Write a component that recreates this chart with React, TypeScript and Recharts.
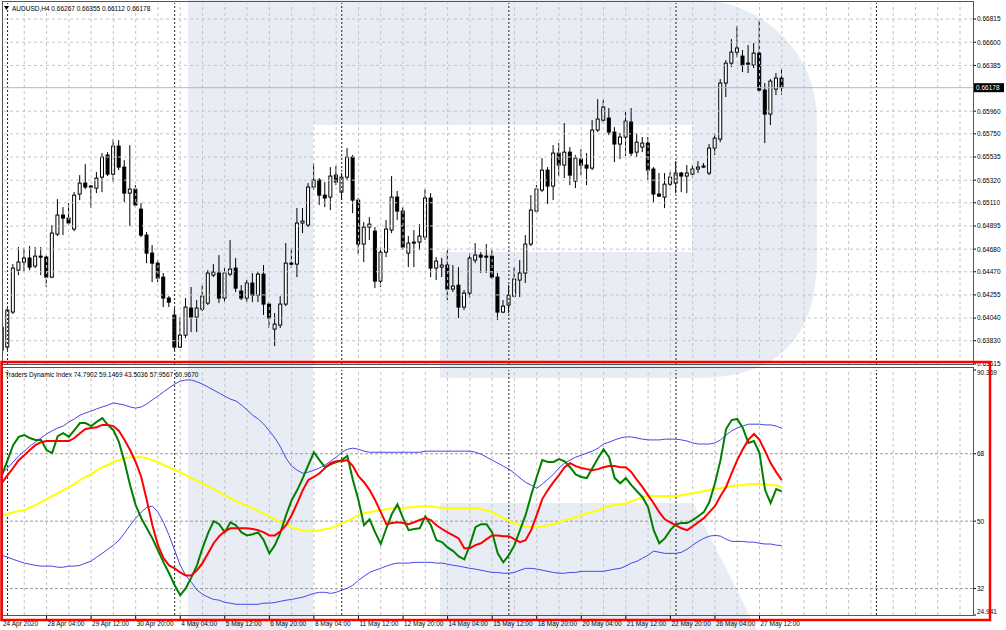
import React from "react";
import { Bar, ComposedChart, Line, ReferenceLine, XAxis, YAxis } from "recharts";

// AUDUSD H4 candles with the Traders Dynamic Index pane underneath,
// laid out like an MT4 chart window.

const FONT = "'Liberation Sans', Arial, sans-serif";
const FS = 6.5;

// ── candles (one per H4 bar, oldest first) ───────────────────────────────
const opens = [
  0.63743, 0.63771, 0.64096, 0.64485, 0.6456, 0.64597, 0.64523, 0.64615, 0.64606, 0.6442,
  0.64819, 0.64996, 0.64968, 0.64866, 0.65191, 0.65293, 0.65265, 0.65246, 0.65348, 0.65553,
  0.65376, 0.65636, 0.65441, 0.652, 0.65237, 0.65051, 0.6481, 0.64643, 0.6455, 0.6442,
  0.64226, 0.64068, 0.63771, 0.63882, 0.64133, 0.64049, 0.64123, 0.64179, 0.64439, 0.64458,
  0.64226, 0.64448, 0.64504, 0.64291, 0.64226, 0.64365, 0.64253, 0.64448, 0.6417, 0.63938,
  0.63975, 0.6417, 0.6455, 0.64541, 0.64922, 0.64903, 0.65256, 0.65321, 0.65181, 0.65163,
  0.65367, 0.65209, 0.65348, 0.65534, 0.65135, 0.64727, 0.64884, 0.64847, 0.64383, 0.64652,
  0.64857, 0.65163, 0.65033, 0.64643, 0.64736, 0.64745, 0.64792, 0.65154, 0.64504, 0.64513,
  0.64532, 0.64309, 0.64346, 0.64142, 0.64272, 0.64578, 0.64625, 0.64615, 0.64615, 0.6442,
  0.64096, 0.64161, 0.64244, 0.64393, 0.64458, 0.64727, 0.65033, 0.65228, 0.65413, 0.65265,
  0.65571, 0.6546, 0.6558, 0.65311, 0.65515, 0.6546, 0.65432, 0.65785, 0.65877, 0.65896,
  0.65766, 0.65655, 0.6572, 0.65859, 0.6558, 0.65627, 0.65664, 0.65423, 0.65191, 0.65163,
  0.65283, 0.65293, 0.65386, 0.65358, 0.65376, 0.65423, 0.65441, 0.65386, 0.65618, 0.65701,
  0.66221, 0.66406, 0.66508, 0.66471, 0.66406, 0.66388, 0.66499, 0.66156, 0.65933, 0.66165,
  0.66267,
];
const highs = [
  0.63975, 0.64133, 0.64541, 0.64699, 0.6469, 0.64708, 0.64699, 0.64699, 0.64625, 0.64903,
  0.65144, 0.6507, 0.65107, 0.65209, 0.65367, 0.65469, 0.65274, 0.65395, 0.65571, 0.6558,
  0.65701, 0.65692, 0.65506, 0.65645, 0.65274, 0.65107, 0.64838, 0.64717, 0.64578, 0.64458,
  0.64244, 0.64133, 0.64049, 0.64226, 0.64328, 0.64207, 0.64346, 0.64485, 0.64541, 0.64625,
  0.64504, 0.64764, 0.64597, 0.64346, 0.64393, 0.64458, 0.64467, 0.64532, 0.64188, 0.64086,
  0.64244, 0.64736, 0.6469, 0.65061, 0.65061, 0.65293, 0.65478, 0.65339, 0.65302, 0.65441,
  0.65451, 0.65386, 0.65618, 0.65553, 0.65154, 0.64931, 0.64977, 0.64884, 0.64699, 0.64949,
  0.65358, 0.65219, 0.6507, 0.64801, 0.64857, 0.64912, 0.65237, 0.652, 0.64606, 0.64597,
  0.64671, 0.64532, 0.64513, 0.643, 0.64643, 0.64736, 0.64652, 0.64727, 0.64671, 0.64458,
  0.64207, 0.64346, 0.64513, 0.64578, 0.6481, 0.65181, 0.65274, 0.65525, 0.65441, 0.65645,
  0.65664, 0.6585, 0.65627, 0.65553, 0.65608, 0.65571, 0.65877, 0.66072, 0.66063, 0.65989,
  0.65812, 0.65757, 0.65952, 0.65989, 0.65757, 0.6572, 0.6572, 0.65441, 0.65386, 0.65386,
  0.65395, 0.65497, 0.65395, 0.6546, 0.6546, 0.65497, 0.65478, 0.65655, 0.65757, 0.66258,
  0.66434, 0.66629, 0.6675, 0.66527, 0.66573, 0.66592, 0.66805, 0.66221, 0.66258, 0.66314,
  0.66355,
];
const lows = [
  0.63632, 0.63743, 0.64077, 0.64439, 0.64476, 0.64485, 0.64504, 0.64439, 0.64328, 0.64411,
  0.64801, 0.6481, 0.64903, 0.64847, 0.65135, 0.65237, 0.65061, 0.652, 0.65209, 0.65358,
  0.65302, 0.65413, 0.65116, 0.64894, 0.6507, 0.64792, 0.6455, 0.64374, 0.64374, 0.64142,
  0.64142, 0.63743, 0.63762, 0.63854, 0.6391, 0.6391, 0.64105, 0.64161, 0.6442, 0.64179,
  0.64188, 0.6443, 0.64281, 0.64207, 0.64188, 0.64188, 0.64188, 0.64068, 0.63947, 0.6378,
  0.63947, 0.64151, 0.64504, 0.6442, 0.64829, 0.64884, 0.65228, 0.65089, 0.6507, 0.65042,
  0.65274, 0.65135, 0.65321, 0.65014, 0.64634, 0.6456, 0.64764, 0.64318, 0.64328, 0.64606,
  0.64829, 0.64949, 0.64671, 0.64513, 0.64513, 0.64671, 0.64764, 0.6442, 0.64393, 0.6442,
  0.64207, 0.64281, 0.6404, 0.64114, 0.64226, 0.6455, 0.64458, 0.64458, 0.64402, 0.64021,
  0.64086, 0.64086, 0.64235, 0.64235, 0.64365, 0.64708, 0.65014, 0.65209, 0.65098, 0.65135,
  0.65358, 0.65339, 0.65274, 0.65246, 0.65367, 0.65274, 0.65413, 0.65766, 0.6585, 0.65738,
  0.65488, 0.65515, 0.65543, 0.65543, 0.65534, 0.6558, 0.65321, 0.65116, 0.65163, 0.65061,
  0.65265, 0.652, 0.65209, 0.652, 0.65339, 0.65386, 0.65432, 0.65367, 0.65553, 0.65673,
  0.66091, 0.66369, 0.66462, 0.66323, 0.66314, 0.6636, 0.66137, 0.65664, 0.65831, 0.66109,
  0.66112,
];
const closes = [
  0.63956, 0.64114, 0.64504, 0.6456, 0.64597, 0.64513, 0.64615, 0.64606, 0.6442, 0.64829,
  0.64996, 0.64968, 0.64922, 0.65181, 0.65293, 0.65256, 0.65256, 0.65339, 0.65534, 0.65376,
  0.65636, 0.65441, 0.652, 0.65237, 0.65089, 0.6481, 0.64643, 0.6455, 0.64411, 0.64226,
  0.64188, 0.63771, 0.63882, 0.64142, 0.64049, 0.64133, 0.64244, 0.64458, 0.64467, 0.64226,
  0.64458, 0.64495, 0.64318, 0.64226, 0.64365, 0.64253, 0.64448, 0.6417, 0.6404, 0.63984,
  0.6417, 0.6455, 0.64541, 0.64922, 0.6494, 0.65256, 0.65321, 0.65181, 0.65154, 0.65358,
  0.65302, 0.65348, 0.65534, 0.65135, 0.64727, 0.64884, 0.64912, 0.64383, 0.64652, 0.64866,
  0.65163, 0.65033, 0.64699, 0.64736, 0.64745, 0.64801, 0.65154, 0.64504, 0.64569, 0.64532,
  0.64309, 0.64337, 0.64142, 0.64272, 0.64597, 0.64625, 0.64606, 0.64606, 0.6442, 0.64096,
  0.64151, 0.64253, 0.64402, 0.64458, 0.64727, 0.65042, 0.65237, 0.65413, 0.65265, 0.65571,
  0.6546, 0.6558, 0.65367, 0.65525, 0.6546, 0.65432, 0.65785, 0.65887, 0.65998, 0.65766,
  0.65655, 0.6572, 0.65868, 0.65571, 0.65673, 0.65664, 0.65413, 0.65191, 0.65172, 0.65283,
  0.65348, 0.65386, 0.65358, 0.65386, 0.65423, 0.65441, 0.65451, 0.65618, 0.6571, 0.66221,
  0.66406, 0.66508, 0.66546, 0.66388, 0.66397, 0.66499, 0.66156, 0.65933, 0.66239, 0.66267,
  0.66178,
];

// ── Traders Dynamic Index buffers ────────────────────────────────────────
const bandUpper = [
  62.8, 64.2, 65.8, 67.4, 68.7, 70.0, 71.1, 72.2, 73.3, 74.1,
  74.9, 75.4, 76.5, 77.3, 78.3, 78.9, 79.4, 80.0, 80.5, 81.0,
  81.6, 81.3, 81.0, 80.5, 80.2, 80.5, 81.3, 82.4, 83.4, 84.5,
  85.6, 86.6, 87.4, 87.7, 87.7, 87.2, 86.6, 85.8, 85.0, 84.2,
  83.4, 82.6, 82.1, 81.0, 79.7, 78.3, 77.3, 75.9, 74.1, 72.2,
  69.8, 66.8, 64.7, 63.6, 62.8, 63.1, 63.6, 64.2, 65.0, 66.0,
  67.1, 68.4, 69.2, 69.5, 69.2, 68.7, 68.4, 68.4, 68.4, 68.4,
  68.4, 68.4, 68.4, 68.4, 68.4, 68.4, 68.7, 68.7, 68.7, 68.7,
  68.7, 68.7, 68.7, 68.7, 68.7, 68.4, 67.9, 67.1, 66.3, 65.5,
  64.7, 63.9, 62.8, 61.5, 60.4, 59.6, 58.8, 59.9, 61.2, 62.5,
  64.2, 65.5, 66.3, 67.1, 67.6, 68.2, 68.7, 69.5, 70.6, 71.1,
  71.7, 72.2, 72.5, 72.5, 72.2, 71.9, 71.7, 71.7, 71.7, 71.9,
  71.9, 71.9, 71.7, 71.4, 70.9, 70.6, 70.6, 70.6, 70.9, 71.7,
  73.0, 74.1, 74.9, 75.4, 75.9, 75.9, 75.9, 75.7, 75.7, 75.4,
  74.79,
];
const baseLine = [
  51.6, 51.9, 52.4, 52.7, 52.9, 53.7, 54.3, 55.1, 55.9, 56.7,
  57.5, 58.3, 59.1, 59.9, 61.0, 61.8, 62.5, 63.6, 64.4, 65.0,
  65.8, 66.3, 66.8, 67.1, 67.1, 67.1, 66.8, 66.3, 65.8, 65.0,
  64.4, 63.6, 63.1, 62.3, 61.5, 60.7, 60.1, 59.3, 58.6, 57.7,
  56.9, 56.1, 55.3, 54.8, 54.0, 53.5, 52.7, 52.1, 51.3, 50.5,
  49.7, 49.2, 48.4, 47.9, 47.6, 47.3, 47.3, 47.6, 47.9, 48.1,
  48.6, 49.5, 50.0, 50.8, 51.6, 52.1, 52.4, 52.7, 52.9, 53.2,
  53.5, 53.5, 53.5, 53.7, 53.7, 54.0, 54.0, 54.0, 53.7, 53.5,
  53.5, 53.5, 53.5, 53.5, 53.5, 53.5, 53.2, 52.9, 52.4, 51.6,
  50.8, 50.0, 49.5, 48.9, 48.6, 48.4, 48.4, 48.6, 48.9, 49.2,
  49.7, 50.3, 50.5, 51.1, 51.6, 52.1, 52.4, 52.9, 53.5, 54.0,
  54.3, 54.5, 54.8, 55.3, 55.9, 56.4, 56.7, 56.7, 56.7, 56.7,
  56.7, 56.7, 56.9, 57.2, 57.5, 57.7, 58.0, 58.3, 58.6, 58.8,
  59.1, 59.3, 59.6, 59.6, 59.9, 59.9, 59.9, 59.9, 59.6, 59.6,
  59.15,
];
const bandLower = [
  40.9, 40.4, 39.8, 39.3, 38.8, 38.5, 38.2, 38.0, 38.0, 38.0,
  37.7, 37.7, 38.0, 38.0, 38.2, 38.8, 39.3, 40.4, 41.4, 42.5,
  43.6, 44.9, 46.8, 48.9, 50.8, 52.4, 53.7, 54.0, 52.4, 49.7,
  46.2, 42.2, 38.2, 35.5, 33.7, 31.6, 30.5, 29.7, 29.1, 28.9,
  28.3, 28.1, 27.8, 27.8, 27.8, 27.8, 27.8, 28.1, 28.1, 28.3,
  28.6, 28.9, 29.1, 29.4, 29.7, 30.2, 30.7, 31.0, 31.0, 30.7,
  31.0, 31.6, 32.1, 32.9, 34.2, 35.3, 36.3, 36.9, 37.4, 38.0,
  38.5, 38.8, 38.8, 38.8, 39.0, 39.0, 39.0, 39.0, 38.8, 38.8,
  38.5, 38.2, 38.0, 37.7, 37.4, 37.2, 36.9, 36.6, 36.3, 36.3,
  36.1, 36.1, 36.3, 36.9, 37.4, 37.4, 37.2, 36.9, 36.6, 36.3,
  36.1, 36.1, 36.3, 36.3, 36.6, 36.6, 36.6, 36.6, 36.6, 36.9,
  37.2, 37.4, 38.0, 38.8, 39.3, 40.1, 40.9, 42.0, 41.7, 41.4,
  41.4, 41.4, 41.7, 42.5, 43.6, 44.6, 45.4, 46.0, 46.2, 46.0,
  45.2, 44.6, 44.6, 44.6, 44.4, 44.4, 44.1, 43.9, 43.9, 43.6,
  43.5,
];
const rsiLine = [
  62.3, 66.3, 70.3, 72.5, 73.0, 72.2, 71.7, 71.7, 69.0, 68.2,
  72.7, 73.5, 72.5, 74.3, 76.2, 76.2, 75.4, 76.5, 77.5, 75.7,
  74.3, 71.1, 65.8, 59.6, 54.3, 50.8, 48.1, 45.4, 42.2, 39.0,
  36.1, 32.9, 30.2, 32.1, 35.0, 38.2, 42.8, 46.8, 50.0, 49.2,
  47.0, 49.7, 48.9, 47.0, 46.2, 46.5, 47.0, 44.9, 41.4, 43.6,
  47.0, 51.6, 55.6, 58.3, 61.5, 65.0, 68.4, 66.3, 64.4, 65.2,
  65.8, 66.3, 67.4, 61.0, 55.6, 48.9, 50.5, 47.0, 43.9, 48.1,
  51.9, 54.5, 50.8, 47.6, 47.9, 48.1, 51.3, 48.9, 44.9, 44.4,
  43.0, 42.0, 40.6, 39.8, 43.6, 48.4, 49.2, 49.2, 47.0, 41.4,
  39.0, 40.9, 43.6, 47.6, 51.6, 56.9, 61.8, 66.3, 65.8, 65.8,
  66.6, 66.0, 64.4, 62.5, 61.8, 61.5, 64.2, 66.8, 69.2, 67.1,
  61.5, 60.1, 61.5, 59.6, 58.0, 56.4, 53.7, 47.6, 44.1, 45.4,
  47.6, 49.2, 49.5, 49.5, 50.3, 51.3, 52.4, 55.1, 60.1, 66.3,
  74.6, 77.0, 77.3, 74.9, 70.9, 71.4, 68.2, 58.3, 54.8, 58.6,
  57.96,
];
const signalLine = [
  60.2, 62.3, 64.2, 66.3, 67.6, 69.0, 70.3, 71.1, 71.4, 71.4,
  71.4, 71.4, 71.4, 72.2, 73.5, 74.6, 74.9, 75.1, 75.7, 75.7,
  75.4, 74.1, 71.7, 69.0, 65.8, 61.8, 55.6, 48.9, 43.6, 40.1,
  38.2, 37.4, 36.3, 35.5, 35.5, 36.9, 38.8, 41.4, 44.1, 46.0,
  47.3, 48.1, 48.1, 48.1, 48.1, 47.9, 47.6, 47.0, 46.2, 46.2,
  47.3, 48.9, 51.6, 54.8, 58.3, 61.0, 61.8, 62.8, 64.2, 65.5,
  66.0, 66.0, 66.3, 64.7, 62.0, 60.4, 58.3, 55.6, 52.4, 49.2,
  49.5, 49.7, 49.5, 49.2, 49.7, 50.3, 50.8, 50.3, 48.9, 47.9,
  47.0, 46.2, 45.4, 42.8, 42.8, 43.6, 44.1, 45.2, 46.2, 46.2,
  46.0, 46.0, 45.2, 44.4, 44.9, 47.6, 51.6, 55.9, 58.3, 60.4,
  62.3, 64.4, 65.5, 64.7, 64.2, 63.9, 63.6, 63.9, 64.4, 64.7,
  64.7, 64.4, 64.4, 63.1, 61.0, 59.1, 56.9, 54.8, 52.4, 50.5,
  49.7, 48.9, 48.1, 47.6, 48.6, 49.7, 50.8, 52.4, 54.0, 56.7,
  59.1, 62.8, 66.3, 69.2, 71.7, 73.3, 71.7, 68.7, 65.5, 63.1,
  60.97,
];

// ── axes ────────────────────────────────────────────────────────────────
const priceTicks = [
  0.66815, 0.666, 0.66385, 0.6596, 0.6575, 0.65535, 0.6532, 0.6511, 0.64895, 0.6468, 0.6447,
  0.64255, 0.6404, 0.6383,
];
const priceBottom = 0.63615;
const lastPrice = 0.66178;
const tdiTicks = [68, 50, 32];
const tdiTop = 90.369;
const tdiBottom = 24.941;
const dateTicks = [0, 8, 16, 24, 32, 40, 48, 56, 64, 72, 80, 88, 96, 104, 112, 120, 128, 136];
const dateLabels = [
  "24 Apr 2020", "28 Apr 04:00", "29 Apr 12:00", "30 Apr 20:00", "4 May 04:00", "5 May 12:00",
  "6 May 20:00", "8 May 04:00", "11 May 12:00", "12 May 20:00", "14 May 04:00", "15 May 12:00",
  "18 May 20:00", "20 May 04:00", "21 May 12:00", "22 May 20:00", "26 May 04:00", "27 May 12:00",
];
const gridBars = Array.from({ length: 43 }, (_, k) => (k + 1) * 4);
const separatorBars = [1, 31, 61, 91, 121, 157];
const X_MAX = 174.33;

const candles = opens.map((o, i) => ({ i, open: o, high: highs[i], low: lows[i], close: closes[i] }));
const tdi = bandUpper.map((u, i) => ({
  i,
  upper: u,
  base: baseLine[i],
  lower: bandLower[i],
  rsi: rsiLine[i],
  signal: signalLine[i],
}));

function Candle(props: any) {
  const { x, y, width, height, payload } = props;
  if (!payload) return null;
  const top = Math.min(y, y + height);
  const h = Math.abs(height);
  const k = h / (payload.high - payload.low);
  const cx = x + width / 2;
  const yo = top + (payload.high - payload.open) * k;
  const yc = top + (payload.high - payload.close) * k;
  const up = payload.close >= payload.open;
  const bt = Math.min(yo, yc);
  const bh = Math.max(Math.abs(yo - yc), 1);
  return (
    <g>
      <line x1={cx} x2={cx} y1={top} y2={top + h} stroke="#000" strokeWidth={1} />
      <rect x={cx - 1.5} y={bt} width={3} height={bh} fill={up ? "#fff" : "#000"} stroke="#000" strokeWidth={1} />
    </g>
  );
}

function PriceTick(props: any) {
  const { y, payload } = props;
  const v = payload.value;
  if (v === lastPrice) {
    return (
      <g>
        <rect x={973} y={y - 4.5} width={31} height={9} fill="#000" />
        <text x={976} y={y + 2.4} fontSize={FS} fontFamily={FONT} fill="#fff">
          {v.toFixed(5)}
        </text>
      </g>
    );
  }
  return (
    <g>
      <line x1={973} x2={976} y1={y} y2={y} stroke="#000" />
      <text x={977} y={y + 2.4} fontSize={FS} fontFamily={FONT} fill="#000">
        {v.toFixed(5)}
      </text>
    </g>
  );
}

function TdiTick(props: any) {
  const { y, payload } = props;
  const v = payload.value;
  let label = String(v);
  let dy = 2.4;
  if (v === tdiTop) {
    label = tdiTop.toFixed(3);
    dy = 4.8;
  } else if (v === tdiBottom) {
    label = tdiBottom.toFixed(3);
    dy = -1.5;
  }
  return (
    <g>
      <line x1={973} x2={976} y1={y} y2={y} stroke="#000" />
      <text x={977} y={y + dy} fontSize={FS} fontFamily={FONT} fill="#000">
        {label}
      </text>
    </g>
  );
}

function DateTick(props: any) {
  const { x, payload } = props;
  const label = dateLabels[dateTicks.indexOf(payload.value)];
  return (
    <g>
      <line x1={x} x2={x} y1={615} y2={619} stroke="#000" />
      <text x={x + 1} y={625.5} fontSize={FS} fontFamily={FONT} fill="#000">
        {label}
      </text>
    </g>
  );
}

const gridStroke = "#c4c4c4";

export default function App() {
  return (
    <div
      style={{
        position: "fixed",
        left: 0,
        top: 0,
        width: 1006,
        height: 630,
        background: "#fff",
        overflow: "hidden",
      }}
    >
      {/* watermark logo */}
      <svg width={1006} height={630} style={{ position: "absolute", left: 0, top: 0 }}>
        <g fill="#e8ecf4">
          <path d="M188,0 H313 V630 H188 Z" />
          <path d="M313,0 H697 A120,120 0 0 1 817,120 V258 Q817,378 697,378 H440 V252 H692 V125 H313 Z" />
          <path d="M440,503 H693 L757,630 H440 Z" />
        </g>
      </svg>

      {/* indicator pane */}
      <div style={{ position: "absolute", left: 0, top: 0 }}>
        <ComposedChart width={1006} height={630} data={tdi} margin={{ top: 370, right: 0, bottom: 0, left: 2 }}>
          <XAxis
            dataKey="i"
            type="number"
            domain={[0, X_MAX]}
            allowDataOverflow
            height={15}
            ticks={dateTicks}
            interval={0}
            tick={<DateTick />}
            tickLine={false}
            axisLine={false}
          />
          <YAxis
            orientation="right"
            type="number"
            domain={[tdiBottom, tdiTop]}
            allowDataOverflow
            width={33}
            ticks={[tdiTop, ...tdiTicks, tdiBottom]}
            interval={0}
            tick={<TdiTick />}
            tickLine={false}
            axisLine={false}
          />
          {gridBars.map((b) => (
            <ReferenceLine key={`g${b}`} x={b} stroke={gridStroke} strokeDasharray="3 3" />
          ))}
          {tdiTicks.map((t) => (
            <ReferenceLine key={`h${t}`} y={t} stroke="#9a9a9a" strokeDasharray="3 2" />
          ))}
          {separatorBars.map((b) => (
            <ReferenceLine key={`s${b}`} x={b} stroke="#222" strokeDasharray="2 2" />
          ))}
          <Line type="linear" dataKey="upper" stroke="#4646e6" strokeWidth={1} dot={false} isAnimationActive={false} />
          <Line type="linear" dataKey="base" stroke="#ffff00" strokeWidth={2} dot={false} isAnimationActive={false} />
          <Line type="linear" dataKey="lower" stroke="#4646e6" strokeWidth={1} dot={false} isAnimationActive={false} />
          <Line type="linear" dataKey="rsi" stroke="#008000" strokeWidth={2} dot={false} isAnimationActive={false} />
          <Line type="linear" dataKey="signal" stroke="#ff0000" strokeWidth={2} dot={false} isAnimationActive={false} />
        </ComposedChart>
      </div>

      {/* price pane */}
      <div style={{ position: "absolute", left: 0, top: 0 }}>
        <ComposedChart width={1006} height={630} data={candles} margin={{ top: 3, right: 0, bottom: 266, left: 2 }}>
          <XAxis dataKey="i" type="number" domain={[0, X_MAX]} allowDataOverflow hide />
          <YAxis
            orientation="right"
            type="number"
            domain={[0.63614, 0.66964]}
            allowDataOverflow
            width={33}
            ticks={[...priceTicks, lastPrice, priceBottom]}
            interval={0}
            tick={<PriceTick />}
            tickLine={false}
            axisLine={false}
          />
          {gridBars.map((b) => (
            <ReferenceLine key={`g${b}`} x={b} stroke={gridStroke} strokeDasharray="3 3" />
          ))}
          {priceTicks.map((t) => (
            <ReferenceLine key={`h${t}`} y={t} stroke={gridStroke} strokeDasharray="3 3" />
          ))}
          {separatorBars.map((b) => (
            <ReferenceLine key={`s${b}`} x={b} stroke="#222" strokeDasharray="2 2" />
          ))}
          <ReferenceLine y={lastPrice} stroke="#b8b8b8" strokeWidth={1} />
          <Bar
            dataKey={(d: any) => [d.low, d.high]}
            barSize={5}
            shape={Candle}
            isAnimationActive={false}
          />
        </ComposedChart>
      </div>

      {/* window frames, titles and highlight box */}
      <svg
        width={1006}
        height={630}
        style={{ position: "absolute", left: 0, top: 0, pointerEvents: "none" }}
        fontFamily={FONT}
        fontSize={FS}
      >
        <rect x={2.5} y={1.5} width={971} height={363} fill="none" stroke="#555" />
        <rect x={2.5} y={367.5} width={971} height={248} fill="none" stroke="#555" />
        <path d="M4,6 L9,6 L6.5,10 Z" fill="#000" />
        <text x={12} y={10.5} fill="#000">
          AUDUSD,H4  0.66267 0.66355 0.66112 0.66178
        </text>
        <text x={5} y={376.5} fill="#000">
          Traders Dynamic Index 74.7902 59.1469 43.5036 57.9567 60.9670
        </text>
        <rect x={1.5} y={362} width={988.5} height={258} fill="none" stroke="#ff0000" strokeWidth={2.5} />
      </svg>
    </div>
  );
}
